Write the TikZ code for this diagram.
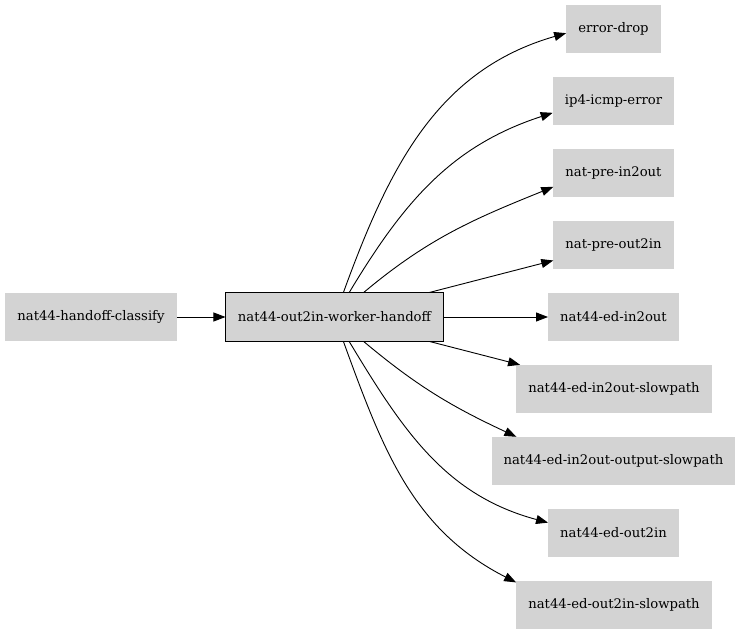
\documentclass[tikz,border=0pt]{standalone}
\usepackage{fontspec}
\setmainfont{DejaVu Serif}
\usetikzlibrary{arrows.meta}
\definecolor{nodegray}{HTML}{D3D3D3}
\tikzset{
    graphnode/.style={fill=nodegray, minimum height=48pt, inner xsep=12pt,
        font=\fontsize{13.2}{15}\selectfont},
    mainnode/.style={graphnode, draw=black, line width=1pt},
    edge/.style={-{Triangle[length=12pt,width=9pt]}, line width=0.9pt}
}
\begin{document}
\begin{tikzpicture}[x=1pt,y=1pt]
        \useasboundingbox (0,0) rectangle (743,635);
        \node[graphnode] (classify) at (91,318) {nat44-handoff-classify};
        \node[mainnode] (handoff) at (334.5,318) {nat44-out2in-worker-handoff};
        \node[graphnode] (drop) at (613.5,606) {error-drop};
        \node[graphnode] (icmp) at (613.5,534) {ip4-icmp-error};
        \node[graphnode] (prein) at (613.5,462) {nat-pre-in2out};
        \node[graphnode] (preout) at (613.5,390) {nat-pre-out2in};
        \node[graphnode] (edin) at (613.5,318) {nat44-ed-in2out};
        \node[graphnode] (edinslow) at (614,246) {nat44-ed-in2out-slowpath};
        \node[graphnode] (edinoutslow) at (613.5,174) {nat44-ed-in2out-output-slowpath};
        \node[graphnode] (edout) at (613.5,102) {nat44-ed-out2in};
        \node[graphnode] (edoutslow) at (614,30) {nat44-ed-out2in-slowpath};
        \draw[edge] (classify) -- (handoff);
        \draw[edge] (handoff) to[out=70,in=196] (drop.185);
        \draw[edge] (handoff) to[out=59,in=198] (icmp.191);
        \draw[edge] (handoff) to[out=40,in=202] (prein.193);
        \draw[edge] (handoff) -- (preout);
        \draw[edge] (handoff) -- (edin);
        \draw[edge] (handoff) -- (edinslow);
        \draw[edge] (handoff) to[out=-40,in=155] (edinoutslow.166);
        \draw[edge] (handoff) to[out=-59,in=165] (edout.171);
        \draw[edge] (handoff) to[out=-70,in=153] (edoutslow.167);
    \end{tikzpicture}
\end{document}
